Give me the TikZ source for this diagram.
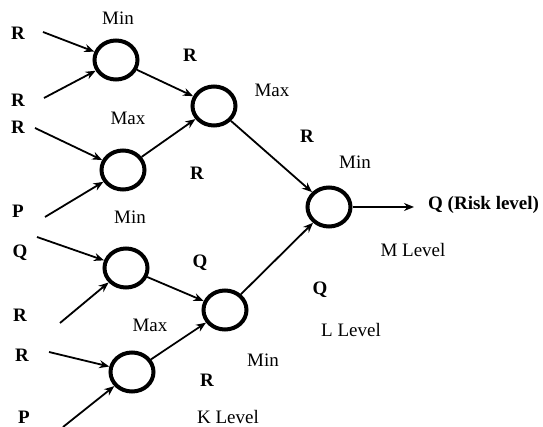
\documentclass[tikz,border=0pt]{standalone}
\usepackage{fontspec}
\setmainfont{Liberation Serif}
\usetikzlibrary{shapes.geometric,arrows.meta}
\begin{document}
\begin{tikzpicture}[x=1pt,y=-1pt,
  gate/.style={draw, ellipse, line width=4pt, minimum width=43pt, minimum height=39pt, inner sep=0pt},
  arr/.style={line width=1.8pt, -{Stealth[length=10pt,width=8pt]}},
  var/.style={font=\fontsize{19}{22}\selectfont\bfseries, inner sep=0pt},
  op/.style={font=\fontsize{19}{22}\selectfont, inner sep=0pt}]
\useasboundingbox (0,0) rectangle (543,427);

% operator gates
\node[gate] (c1) at (116,60) {};
\node[gate] (c2) at (214,106) {};
\node[gate] (c3) at (123,170) {};
\node[gate] (c4) at (126,268) {};
\node[gate] (c5) at (225,310) {};
\node[gate] (c6) at (132,372) {};
\node[gate] (c7) at (329,207) {};

% input variables
\node[var] (v1) at (18,33) {R};
\node[var] (v2) at (18,100) {R};
\node[var] (v3) at (18,127) {R};
\node[var] (v4) at (18,211) {P};
\node[var] (v5) at (20,253) {Q};
\node[var] (v6) at (20,315) {R};
\node[var] (v7) at (22,355) {R};
\node[var] (v8) at (24,417) {P};

% input arrow tails
\coordinate (s1) at (43,32);
\coordinate (s2) at (44,98);
\coordinate (s3) at (35,128);
\coordinate (s4) at (45,217);
\coordinate (s5) at (37,237);
\coordinate (s6) at (60,323);
\coordinate (s7) at (49,352);
\coordinate (s8) at (63,427);
\coordinate (out) at (414,207);

\draw[arr] (s1) -- (c1);
\draw[arr] (s2) -- (c1);
\draw[arr] (s3) -- (c3);
\draw[arr] (s4) -- (c3);
\draw[arr] (s5) -- (c4);
\draw[arr] (s6) -- (c4);
\draw[arr] (s7) -- (c6);
\draw[arr] (s8) -- (c6);
\draw[arr] (c1) -- (c2);
\draw[arr] (c3) -- (c2);
\draw[arr] (c4) -- (c5);
\draw[arr] (c6) -- (c5);
\draw[arr] (c2) -- (c7);
\draw[arr] (c5) -- (c7);
\draw[arr] (c7) -- (out);

% operator labels
\node[op] (o1) at (118,18) {Min};
\node[op] (o2) at (128,118) {Max};
\node[op] (o3) at (130,217) {Min};
\node[op] (o4) at (150,325) {Max};
\node[op] (o5) at (272,90) {Max};
\node[op] (o6) at (263,360) {Min};
\node[op] (o7) at (355,162) {Min};

% intermediate outputs
\node[var] (w1) at (190,55) {R};
\node[var] (w2) at (197,173) {R};
\node[var] (w3) at (200,263) {Q};
\node[var] (w4) at (207,380) {R};
\node[var] (w5) at (307,136) {R};
\node[var] (w6) at (320,290) {Q};

% result and level labels
\node[var, anchor=west] (res) at (428,205) {Q (Risk level)};
\node[op] (lm) at (413,250) {M Level};
\node[op] (ll) at (351,330) {L Level};
\node[op] (lk) at (228,417) {K Level};
\end{tikzpicture}
\end{document}
